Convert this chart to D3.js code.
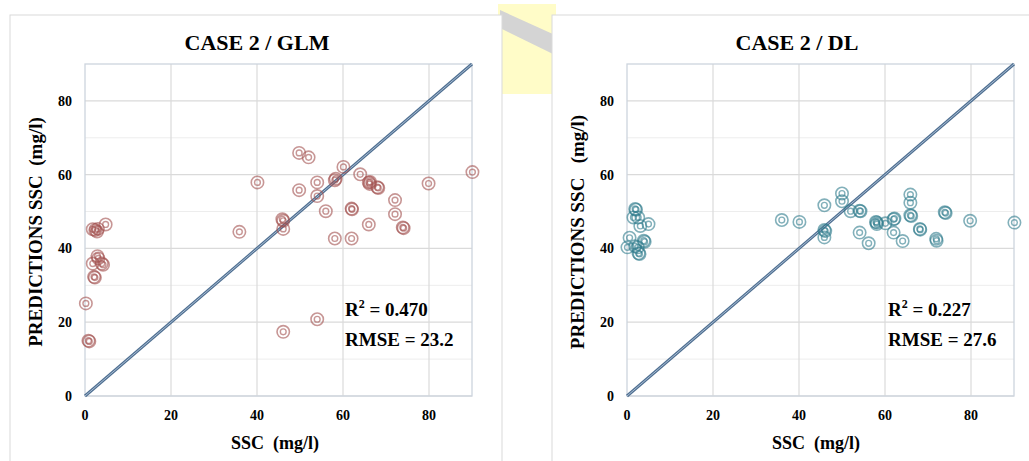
<!DOCTYPE html>
<html>
<head>
<meta charset="utf-8">
<script src="https://cdn.jsdelivr.net/npm/d3@7"></script>
<style>
  body { margin: 0; background: #fff; }
</style>
</head>
<body>
<svg id="chart" width="1029" height="461" font-family="'Liberation Serif', 'DejaVu Serif', serif" font-weight="bold"></svg>
<script>
const glmObs = [0.2, 0.8, 1.0, 1.8, 2.4, 2.8, 3.0, 4.8, 2.9, 3.1, 1.8, 3.9, 4.2, 2.1, 2.3,
  35.9, 40.1, 45.9, 46.1, 46.1, 46.1, 49.8, 52.0, 49.8, 54.0, 54.0, 54.0, 56.0, 58.1, 58.3,
  58.1, 60.1, 62.0, 62.1, 62.0, 64.0, 66.0, 66.2, 66.3, 66.0, 68.0, 68.2, 72.1, 72.1, 73.9,
  74.1, 79.9, 90.1];
const glmPred = [25.1, 15.0, 14.8, 45.2, 45.0, 44.6, 45.3, 46.5, 37.9, 37.3, 35.9, 35.9, 35.6, 32.3, 32.1,
  44.5, 57.9, 47.9, 47.5, 45.3, 17.4, 65.9, 64.7, 55.8, 57.9, 54.2, 20.8, 50.1, 58.5, 58.9,
  42.7, 62.1, 50.8, 50.6, 42.7, 60.1, 57.9, 57.5, 58.0, 46.5, 56.6, 56.4, 53.1, 49.3, 45.7,
  45.5, 57.6, 60.7];

const dlObs = [0.1, 0.6, 1.9, 2.1, 1.5, 2.6, 3.1, 5.0, 3.9, 4.1, 1.9, 2.5, 2.7, 2.9,
  36.0, 40.1, 45.9, 45.9, 46.1, 45.9, 50.0, 50.0, 52.0, 54.1, 54.3, 54.1, 56.2, 57.9, 58.1,
  58.1, 60.1, 62.0, 62.2, 62.0, 64.1, 65.9, 65.9, 65.9, 66.1, 68.1, 68.2, 71.9, 72.0, 73.9,
  74.1, 79.8, 90.1];
const dlPred = [40.3, 42.9, 50.7, 50.5, 48.4, 48.4, 46.1, 46.6, 42.1, 41.8, 40.6, 40.3, 38.7, 38.5,
  47.7, 47.2, 51.7, 45.0, 44.7, 43.0, 54.9, 52.8, 50.1, 50.2, 50.1, 44.3, 41.4, 47.2, 47.0,
  46.6, 46.8, 47.9, 48.1, 44.3, 42.0, 54.6, 52.4, 49.0, 48.8, 45.3, 45.1, 42.6, 42.1, 49.8,
  49.6, 47.5, 47.0];

const gridMajor = [0, 20, 40, 60, 80];
const gridMinor = [10, 30, 50, 70];

const panels = [
  { title: 'CASE 2 / GLM', obs: glmObs, pred: glmPred, r2: '0.470', rmse: '23.2',
    ylab: 'PREDICTIONS SSC  (mg/l)', color: '#a2504e',
    box: [10, 15, 492, 460], plot: [85, 472, 64, 396], ylabX: 36, statX: 345, titleX: 257, xlabX: 275 },
  { title: 'CASE 2 / DL', obs: dlObs, pred: dlPred, r2: '0.227', rmse: '27.6',
    ylab: 'PREDICTIONS SSC   (mg/l)', color: '#2f7c8c',
    box: [552, 15, 490, 460], plot: [627, 1014, 64, 396], ylabX: 578, statX: 888, titleX: 797, xlabX: 816 }
];

const svg = d3.select('#chart');

// faint watermark bits between the panels
svg.append('rect').attr('x', 498).attr('y', 4).attr('width', 58).attr('height', 90).attr('fill', '#fffcc8');
svg.append('path').attr('d', 'M500,10 L555,35 L555,55 L500,28 Z').attr('fill', '#d4d4d4');

panels.forEach(p => {
  const [l, r, t, b] = p.plot;
  const x = d3.scaleLinear().domain([0, 90]).range([l, r]);
  const y = d3.scaleLinear().domain([0, 90]).range([b, t]);
  const g = svg.append('g');

  g.append('rect')
    .attr('x', p.box[0]).attr('y', p.box[1])
    .attr('width', p.box[2]).attr('height', p.box[3])
    .attr('fill', '#fff').attr('stroke', '#d9d9d9');

  // gridlines
  g.selectAll('.minor').data(gridMinor).join('line')
    .attr('x1', l).attr('x2', r)
    .attr('y1', d => y(d)).attr('y2', d => y(d))
    .attr('stroke', '#ededed').attr('stroke-width', 1);
  g.selectAll('.hmaj').data(gridMajor).join('line')
    .attr('x1', l).attr('x2', r)
    .attr('y1', d => y(d)).attr('y2', d => y(d))
    .attr('stroke', '#dadada').attr('stroke-width', 1.2);
  g.selectAll('.vmaj').data(gridMajor.slice(1)).join('line')
    .attr('y1', t).attr('y2', b)
    .attr('x1', d => x(d)).attr('x2', d => x(d))
    .attr('stroke', '#dadada').attr('stroke-width', 1.2);
  g.append('rect')
    .attr('x', l).attr('y', t).attr('width', r - l).attr('height', b - t)
    .attr('fill', 'none').attr('stroke', '#cdd4de').attr('stroke-width', 1.3);

  // tick labels
  g.selectAll('.yt').data(gridMajor).join('text')
    .attr('x', l - 13).attr('y', d => y(d) + 5)
    .attr('text-anchor', 'end').attr('font-size', 14)
    .text(d => d);
  g.selectAll('.xt').data(gridMajor).join('text')
    .attr('x', d => x(d)).attr('y', b + 24)
    .attr('text-anchor', 'middle').attr('font-size', 14)
    .text(d => d);

  // 1:1 line
  g.append('line')
    .attr('x1', x(0)).attr('y1', y(0)).attr('x2', x(90)).attr('y2', y(90))
    .attr('stroke', '#4f6f91').attr('stroke-width', 3);
  g.append('line')
    .attr('x1', x(0)).attr('y1', y(0)).attr('x2', x(90)).attr('y2', y(90))
    .attr('stroke', '#a9bdd3').attr('stroke-width', 1);

  // double-circle markers
  const pts = p.obs.map((d, i) => [d, p.pred[i]]);
  const m = g.append('g').attr('fill', 'none').attr('stroke', p.color).attr('stroke-opacity', 0.6);
  m.selectAll('.o').data(pts).join('circle')
    .attr('cx', d => x(d[0])).attr('cy', d => y(d[1])).attr('r', 6.2)
    .attr('stroke-width', 1.6);
  m.selectAll('.i').data(pts).join('circle')
    .attr('cx', d => x(d[0])).attr('cy', d => y(d[1])).attr('r', 2.9)
    .attr('stroke-width', 1.4);

  // titles and axis labels
  g.append('text')
    .attr('x', p.titleX).attr('y', 50)
    .attr('text-anchor', 'middle').attr('font-size', 22)
    .text(p.title);
  g.append('text')
    .attr('transform', `translate(${p.ylabX + 6},${(t + b) / 2 + 2}) rotate(-90)`)
    .attr('text-anchor', 'middle').attr('font-size', 19)
    .style('white-space', 'pre')
    .text(p.ylab);
  g.append('text')
    .attr('x', p.xlabX).attr('y', 449)
    .attr('text-anchor', 'middle').attr('font-size', 18)
    .style('white-space', 'pre')
    .text('SSC  (mg/l)');

  // stats
  const st = g.append('text').attr('x', p.statX).attr('y', 316).attr('font-size', 19);
  st.append('tspan').text('R');
  st.append('tspan').attr('font-size', 12).attr('dy', -8).text('2');
  st.append('tspan').attr('dy', 8).text(' = ' + p.r2);
  g.append('text').attr('x', p.statX).attr('y', 346).attr('font-size', 19)
    .text('RMSE = ' + p.rmse);
});
</script>
</body>
</html>
